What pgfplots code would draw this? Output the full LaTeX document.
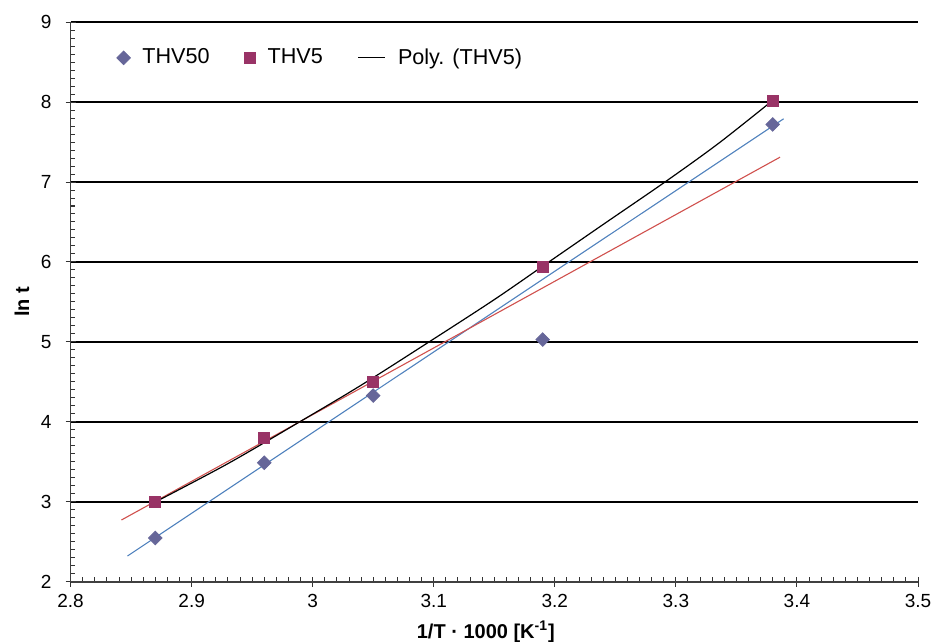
\documentclass[border=0pt]{standalone}
\usepackage{fontspec}
\setmainfont{Liberation Sans}
\usepackage{pgfplots}
\pgfplotsset{compat=1.18}
\usetikzlibrary{calc}
\definecolor{thvfifty}{HTML}{666699}
\definecolor{thvfive}{HTML}{993366}
\definecolor{fitblue}{HTML}{4F81BD}
\definecolor{fitred}{HTML}{D0504D}

\begin{document}
\begin{tikzpicture}
\begin{axis}[
width=423.7pt,
height=280pt,
scale only axis,
xmin=2.8, xmax=3.5,
ymin=2, ymax=9,
xtick={2.8,2.9,3,3.1,3.2,3.3,3.4,3.5},
ytick={2,3,4,5,6,7,8,9},
minor x tick num=9,
minor y tick num=9,
axis x line=bottom,
axis y line=left,
axis line style={-, black!75, line width=0.7pt},
ymajorgrids,
major grid style={black, line width=0.6pt},
tick align=center,
major tick length=5pt,
minor tick length=2.4pt,
minor x tick style={yshift=1.2pt},
minor y tick style={xshift=1.2pt},
tick style={black!80, line width=0.5pt},
ticklabel style={font=\fontsize{9.5}{10}\selectfont},
yticklabel style={xshift=-3.5pt},
/pgf/number format/assume math mode=true,
xlabel={\textbf{1/T · 1000 [K\textsuperscript{-1}]}},
ylabel={\textbf{ln t}},
label style={font=\fontsize{10}{11}\selectfont},
every axis x label/.style={at={(axis description cs:0.49,-0.089)}, anchor=center},
every axis y label/.style={at={(axis description cs:-0.0575,0.5)}, rotate=90, anchor=center},
legend style={draw=none, fill=none, at={(axis description cs:0.047,0.936)}, anchor=west,
  font=\fontsize{10.8}{12}\selectfont,
  /tikz/every odd column/.append style={column sep=4pt},
  /tikz/every even column/.append style={column sep=15.5pt}},
legend columns=3,
]
% linear trend THV50
\addplot[color=fitblue, line width=0.55pt, forget plot] coordinates {
(2.847,2.325) (3.389,7.79)
};
% linear trend (red)
\addplot[color=fitred, line width=0.55pt, forget plot] coordinates {
(2.842,2.775) (3.386,7.31)
};
\addplot[only marks, mark=square*, mark size=2.4pt, color=thvfifty, mark options={rotate=45}] coordinates {
(2.87,2.55) (2.96,3.49) (3.05,4.33) (3.19,5.03) (3.38,7.72)
};
\addlegendentry{THV50}
\addplot[only marks, mark=square*, mark size=2.75pt, color=thvfive] coordinates {
(2.87,3.00) (2.96,3.80) (3.05,4.50) (3.19,5.94) (3.38,8.02)
};
\addlegendentry{THV5}
\addplot[black, line width=0.6pt, smooth,
  legend image code/.code={\draw[black, line width=0.6pt] (0pt,0pt) -- (13.5pt,0pt);}] coordinates {
(2.87,3.00) (2.93,3.48) (2.989,4.0) (3.04,4.46) (3.096,5.0) (3.15,5.53) (3.195,6.0) (3.24,6.47) (3.291,7.0) (3.335,7.48) (3.38,8.02)
};
\addlegendentry{Poly. (THV5)}
\coordinate (sw) at (rel axis cs:0,0);
\coordinate (ne) at (rel axis cs:1,1);
\end{axis}
\pgfresetboundingbox
\path[use as bounding box] ($(sw)+(-35.3pt,-30pt)$) rectangle ($(ne)+(7.5pt,11pt)$);
\end{tikzpicture}
\end{document}
